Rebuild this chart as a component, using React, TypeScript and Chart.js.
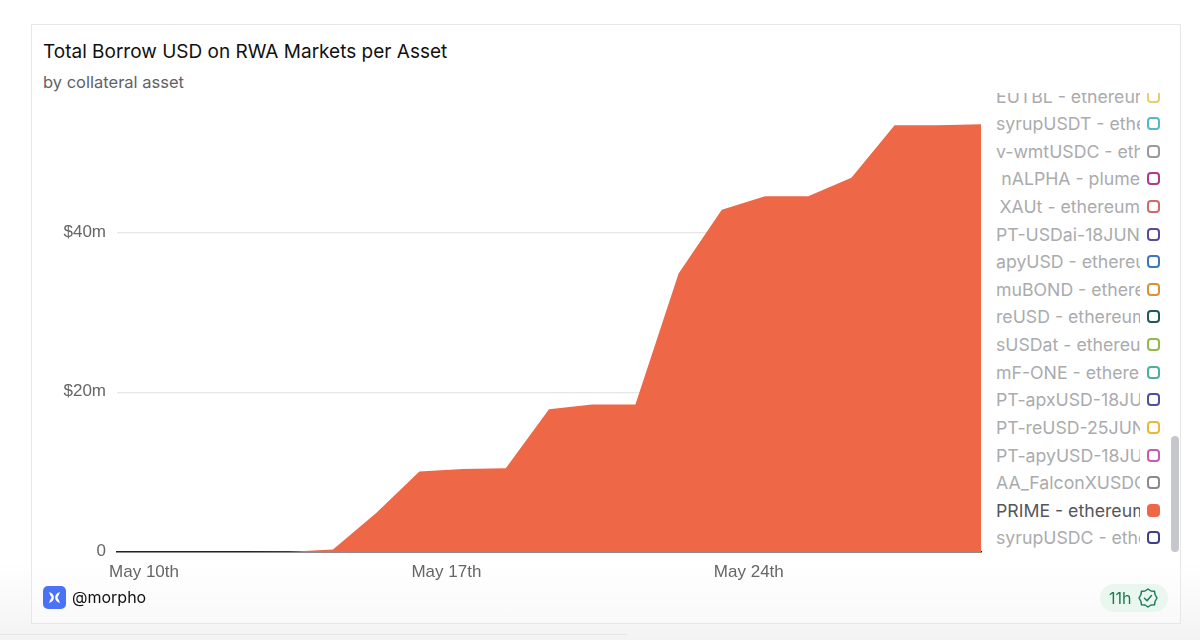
import React, { useEffect, useRef } from "react";
import { Chart, registerables } from "chart.js";

Chart.register(...registerables);

const days = [
  "May 10th","May 11th","May 12th","May 13th","May 14th","May 15th","May 16th",
  "May 17th","May 18th","May 19th","May 20th","May 21st","May 22nd","May 23rd",
  "May 24th","May 25th","May 26th","May 27th","May 28th","May 29th","May 30th",
];
const primeValues = [0, 0, 0, 0, 0.02, 0.3, 4.9, 10.1, 10.4, 10.5, 17.9, 18.5, 18.5, 34.9, 42.9, 44.6, 44.6, 46.9, 53.5, 53.5, 53.6];
const assetNames = [
  "EUTBL - ethereum","syrupUSDT - ethereum","v-wmtUSDC - ethereum","nALPHA - plume","XAUt - ethereum",
  "PT-USDai-18JUN2026 - ethereum","apyUSD - ethereum","muBOND - ethereum","reUSD - ethereum","sUSDat - ethereum",
  "mF-ONE - ethereum","PT-apxUSD-18JUN2026 - ethereum","PT-reUSD-25JUN2026 - ethereum","PT-apyUSD-18JUN2026 - ethereum",
  "AA_FalconXUSDC - ethereum","PRIME - ethereum","syrupUSDC - ethereum",
];
const assetColors = [
  "#e8cf6a","#55b8c4","#9a9a9a","#b03a8e","#cf6a6a","#5a4a9c","#3f78b8","#d9923a","#1f5a5a","#93b84a",
  "#4fae9c","#4f4f9c","#e8b93a","#c45cb0","#8a8a8a","#ee6746","#3f3f8c",
];
const activeAsset = "PRIME - ethereum";
const yTicks = [0, 20, 40];

const sans = "Inter, sans-serif";
const axisFont = "'Liberation Sans', Arial, sans-serif";

export default function App() {
  const ref = useRef<HTMLCanvasElement>(null);
  useEffect(() => {
    const chart = new Chart(ref.current!, {
      type: "line",
      data: {
        labels: days,
        datasets: assetNames.map((name, i) => ({
          label: name,
          data: name === activeAsset ? primeValues : [],
          hidden: name !== activeAsset,
          borderColor: assetColors[i],
          backgroundColor: assetColors[i],
          borderWidth: 0,
          pointRadius: 0,
          tension: 0,
          fill: "origin",
        })),
      },
      options: {
        animation: false,
        responsive: false,
        layout: { padding: { left: 0, right: 199, top: 0, bottom: 0 } },
        plugins: { legend: { display: false }, tooltip: { enabled: false }, title: { display: false } },
        scales: {
          x: {
            stacked: true,
            offset: false,
            afterFit: (s: any) => { s.height = 38; },
            grid: { display: false, drawTicks: false },
            border: { display: true, color: "#222222", width: 1.6 },
            ticks: {
              autoSkip: false,
              maxRotation: 0,
              minRotation: 0,
              labelOffset: 27,
              padding: 10,
              color: "#666666",
              font: { family: axisFont, size: 17 },
              callback: (_v: any, i: number) => (i % 7 === 0 && i < 20 ? days[i] : ""),
            },
          },
          y: {
            stacked: true,
            min: 0,
            max: 55.25,
            afterFit: (s: any) => { s.width = 117; },
            afterBuildTicks: (axis: any) => {
              axis.ticks = yTicks.map((value) => ({ value }));
            },
            grid: { color: "#e6e6e6", lineWidth: 1.2, drawTicks: false },
            border: { display: false },
            ticks: {
              padding: 11,
              labelOffset: -1,
              color: "#666666",
              font: { family: axisFont, size: 17 },
              callback: (v: any) => (v === 0 ? "0" : `$${v}m`),
            },
          },
        },
      } as any,
    });
    return () => chart.destroy();
  }, []);

  return (
    <div style={{ position: "fixed", inset: 0, width: 1200, height: 640, overflow: "hidden", fontFamily: sans,
      background: "linear-gradient(180deg,#ffffff 0%,#ffffff 88%,#f3f3f3 100%)" }}>
      <div style={{ position: "absolute", left: 31, top: 24, width: 1150, height: 600, boxSizing: "border-box",
        border: "1px solid #e7e7e7", background: "linear-gradient(180deg,#fff 0%,#fff 90%,#f9f9f9 100%)" }} />
      <div style={{ position: "absolute", left: 0, top: 634, width: 627, height: 1, background: "#e4e4e4" }} />
      <div style={{ position: "absolute", left: 43, top: 40, fontSize: 19, color: "#111", whiteSpace: "nowrap", lineHeight: "24px" }}>
        Total Borrow USD on RWA Markets per Asset
      </div>
      <div style={{ position: "absolute", left: 43, top: 71, fontSize: 16.5, color: "#5f6368", whiteSpace: "nowrap", lineHeight: "22px" }}>
        by collateral asset
      </div>
      <canvas ref={ref} width={1180} height={500}
        style={{ position: "absolute", left: 0, top: 90, width: 1180, height: 500 }} />
      <div style={{ position: "absolute", left: 990, top: 93, width: 180, height: 459, overflow: "hidden", background: "#fff" }}>
        {assetNames.map((name, i) => {
          const active = name === activeAsset;
          return (
            <div key={name} style={{ position: "absolute", left: 0, top: -10.5 + i * 27.62, width: 180, height: 27 }}>
              <div style={{ position: "absolute", left: 6, width: 144, top: 0, lineHeight: "27px", textAlign: "right",
                whiteSpace: "nowrap", overflow: "hidden", fontSize: 17.7, color: active ? "#55565c" : "#aaabad" }}>
                {name}
              </div>
              <div style={{ position: "absolute", left: 157, top: 7, width: 13, height: 13, boxSizing: "border-box", borderRadius: 4,
                border: `2px solid ${assetColors[i]}`, background: active ? assetColors[i] : "#fff" }} />
            </div>
          );
        })}
      </div>
      <div style={{ position: "absolute", left: 1171, top: 436, width: 8, height: 116, borderRadius: 4, background: "#c6c7cc" }} />
      <svg style={{ position: "absolute", left: 43, top: 586 }} width="23" height="23" viewBox="0 0 23 23">
        <rect width="23" height="23" rx="5" fill="#4a72f5" />
        <path d="M6 6 C8.5 6.5 10.6 8.5 10.8 11 L10.8 12 C10.6 14.5 8.5 16.5 6 17 C6.6 15 7.4 13.2 8.6 11.5 C7.4 9.8 6.6 8 6 6Z M17 6 C14.5 6.5 12.4 8.5 12.2 11 L12.2 12 C12.4 14.5 14.5 16.5 17 17 C16.4 15 15.6 13.2 14.4 11.5 C15.6 9.8 16.4 8 17 6Z" fill="#fff" />
      </svg>
      <div style={{ position: "absolute", left: 72, top: 586, fontSize: 16, color: "#111", lineHeight: "22px" }}>@morpho</div>
      <div style={{ position: "absolute", left: 1100, top: 584, width: 68, height: 28, borderRadius: 14, background: "#e9f7ee" }}>
        <span style={{ position: "absolute", left: 9, top: 0, lineHeight: "28px", fontSize: 16, color: "#1c7a58" }}>11h</span>
        <svg style={{ position: "absolute", left: 38, top: 4 }} width="20" height="20" viewBox="0 0 20 20" fill="none" stroke="#1c7a58" strokeWidth="1.5">
          <path d="M10 1 L13 3 L16.5 3.2 L17 6.5 L19 10 L17 13.5 L16.5 16.8 L13 17 L10 19 L7 17 L3.5 16.8 L3 13.5 L1 10 L3 6.5 L3.5 3.2 L7 3 Z" strokeLinejoin="round" />
          <path d="M6.5 10.2 L9 12.7 L13.5 7.5" strokeLinecap="round" strokeLinejoin="round" />
        </svg>
      </div>
    </div>
  );
}
